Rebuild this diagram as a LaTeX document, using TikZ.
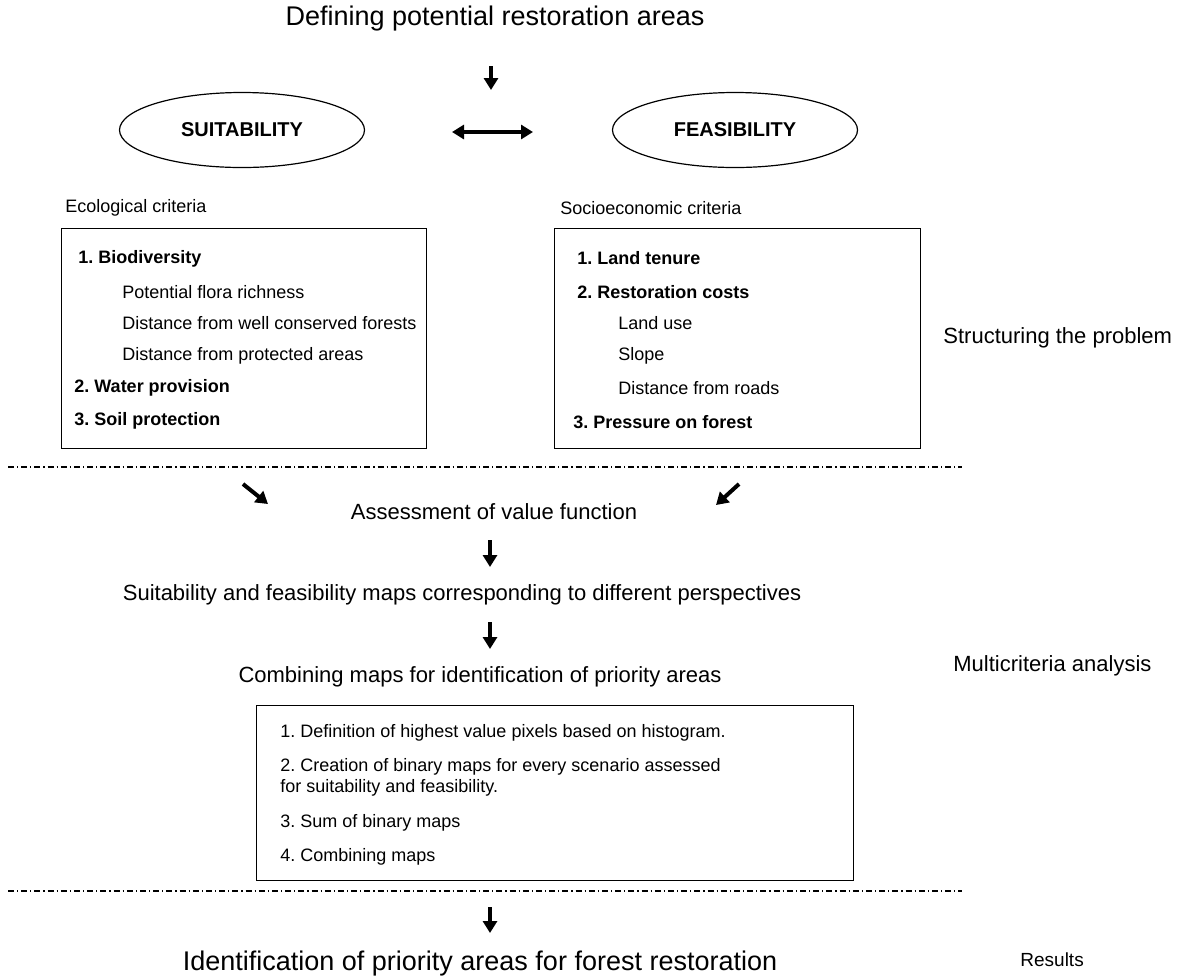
\documentclass[tikz,border=0pt]{standalone}
\usepackage{fontspec}
\setmainfont{Liberation Sans}
\usetikzlibrary{shapes.geometric,arrows.meta}
\frenchspacing
\begin{document}
\begin{tikzpicture}[x=0.5pt,y=-0.5pt,
  titletxt/.style={inner sep=0pt, font=\fontsize{13.5}{16}\selectfont},
  captxt/.style={inner sep=0pt, font=\fontsize{11}{13}\selectfont},
  sidetxt/.style={anchor=west, inner sep=0pt, font=\fontsize{11}{13}\selectfont},
  itemtxt/.style={anchor=west, inner sep=0pt, font=\fontsize{9}{11}\selectfont},
  bitemtxt/.style={itemtxt, font=\bfseries\fontsize{9}{11}\selectfont},
  ell/.style={draw, ellipse, line width=0.6pt, minimum width=122.5pt, minimum height=37.5pt, inner sep=0pt, font=\bfseries\fontsize{10}{12}\selectfont},
  boxframe/.style={draw, line width=0.6pt, anchor=north west, inner sep=0pt},
  bigarrow/.style={line width=2pt, -{Triangle[width=7pt,length=6pt]}},
  dblarrow/.style={line width=2pt, {Triangle[width=7pt,length=6pt]}-{Triangle[width=7pt,length=6pt]}},
  sepline/.style={line width=0.7pt, dash pattern=on 3pt off 1.5pt on 0.6pt off 1.5pt}
]
\useasboundingbox (0,0) rectangle (1181,976);

% title
\node[titletxt] (t) at (495,19) {Defining potential restoration areas};
\coordinate (a1s) at (491,66);
\coordinate (a1e) at (491,90);
\draw[bigarrow] (a1s) -- (a1e);

% ellipses
\node[ell] (suit) at (242,130) {SUITABILITY};
\node[ell] (feas) at (735,130) {FEASIBILITY};
\coordinate (d1) at (452,132);
\coordinate (d2) at (533,132);
\draw[dblarrow] (d1) -- (d2);

% criteria labels
\node[itemtxt] (eco) at (65,208) {Ecological criteria};
\node[itemtxt] (soc) at (560,208) {Socioeconomic criteria};

% left box
\node[boxframe, minimum width=182.5pt, minimum height=110pt] (lbox) at (61,228) {};
\node[bitemtxt] (l1) at (78,259) {1. Biodiversity};
\node[itemtxt] (l2) at (122,292) {Potential flora richness};
\node[itemtxt] (l3) at (122,323) {Distance from well conserved forests};
\node[itemtxt] (l4) at (122,356) {Distance from protected areas};
\node[bitemtxt] (l5) at (74,388) {2. Water provision};
\node[bitemtxt] (l6) at (74,421) {3. Soil protection};

% right box
\node[boxframe, minimum width=183pt, minimum height=110pt] (rbox) at (554,228) {};
\node[bitemtxt] (r1) at (577,258) {1. Land tenure};
\node[bitemtxt] (r2) at (577,292) {2. Restoration costs};
\node[itemtxt] (r3) at (618,323) {Land use};
\node[itemtxt] (r4) at (618,356) {Slope};
\node[itemtxt] (r5) at (618,388) {Distance from roads};
\node[bitemtxt] (r6) at (573,422) {3. Pressure on forest};

\node[sidetxt] (s1) at (943,338) {Structuring the problem};

% separator 1
\coordinate (sa) at (8,467);
\coordinate (sb) at (962,467);
\draw[sepline] (sa) -- (sb);

% diagonal arrows
\coordinate (dl1) at (243,484);
\coordinate (dl2) at (268,504);
\draw[bigarrow] (dl1) -- (dl2);
\coordinate (dr1) at (739,484);
\coordinate (dr2) at (716,505);
\draw[bigarrow] (dr1) -- (dr2);

\node[captxt] (assess) at (494,512) {Assessment of value function};
\coordinate (a2s) at (490,540);
\coordinate (a2e) at (490,567);
\draw[bigarrow] (a2s) -- (a2e);

\node[captxt] (maps) at (462,595) {Suitability and feasibility maps corresponding to different perspectives};
\coordinate (a3s) at (490,622);
\coordinate (a3e) at (490,649);
\draw[bigarrow] (a3s) -- (a3e);

\node[captxt] (comb) at (480,677) {Combining maps for identification of priority areas};
\node[sidetxt] (s2) at (953,666) {Multicriteria analysis};

% bottom box
\node[boxframe, minimum width=298.5pt, minimum height=87.5pt] (bbox) at (256,705) {};
\node[itemtxt] (b1) at (280,733) {1. Definition of highest value pixels based on histogram.};
\node[itemtxt] (b2) at (280,767) {2. Creation of binary maps for every scenario assessed};
\node[itemtxt] (b2b) at (280,788) {for suitability and feasibility.};
\node[itemtxt] (b3) at (280,823) {3. Sum of binary maps};
\node[itemtxt] (b4) at (280,857) {4. Combining maps};

% separator 2
\coordinate (sc) at (8,891);
\coordinate (sd) at (962,891);
\draw[sepline] (sc) -- (sd);

\coordinate (a4s) at (490,907);
\coordinate (a4e) at (490,933);
\draw[bigarrow] (a4s) -- (a4e);

\node[titletxt] (res) at (480,963) {Identification of priority areas for forest restoration};
\node[itemtxt, font=\fontsize{9.5}{11}\selectfont] (s3) at (1020,960) {Results};
\end{tikzpicture}
\end{document}
